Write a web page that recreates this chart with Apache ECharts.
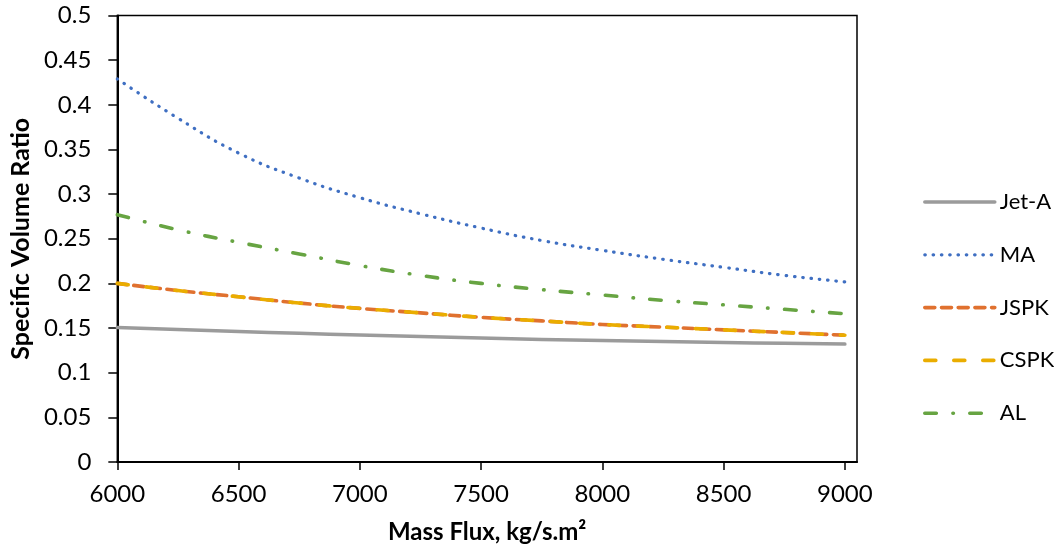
<!DOCTYPE html>
<html><head><meta charset="utf-8">
<script src="https://cdn.jsdelivr.net/npm/echarts@6/dist/echarts.min.js"></script>
<style>html,body{margin:0;padding:0;background:#fff}#c{width:1054px;height:555px}</style>
</head><body><div id="c"></div>
<script>
const massFlux = [6000, 6250, 6500, 6750, 7000, 7250, 7500, 7750, 8000, 8250, 8500, 8750, 9000];
const jetA = [0.1506, 0.1483, 0.1462, 0.1441, 0.1422, 0.1404, 0.1388, 0.1373, 0.1360, 0.1349, 0.1338, 0.1329, 0.1320];
const ma   = [0.429, 0.385, 0.346, 0.318, 0.296, 0.278, 0.262, 0.248, 0.237, 0.227, 0.218, 0.209, 0.2017];
const jspk = [0.200, 0.192, 0.185, 0.178, 0.172, 0.167, 0.162, 0.158, 0.154, 0.151, 0.148, 0.145, 0.142];
const cspk = [0.200, 0.192, 0.185, 0.178, 0.172, 0.167, 0.162, 0.158, 0.154, 0.151, 0.148, 0.145, 0.142];
const al   = [0.277, 0.260, 0.246, 0.233, 0.220, 0.209, 0.200, 0.193, 0.187, 0.181, 0.176, 0.171, 0.166];
const xTicks = [6000, 6500, 7000, 7500, 8000, 8500, 9000];
const seriesNames = ['Jet-A', 'MA', 'JSPK', 'CSPK', 'AL'];

const pair = ys => massFlux.map((x, i) => [x, ys[i]]);
const font = 'Lato, "DejaVu Sans", sans-serif';
const chart = echarts.init(document.getElementById('c'), null, {renderer: 'canvas'});
const mk = (name, ys, color, width, type) => ({
  name, type: 'line', data: pair(ys), smooth: true, symbol: 'none', showSymbol: false,
  lineStyle: {color, width, type, cap: 'round', join: 'round'},
  itemStyle: {color}
});
chart.setOption({
  animation: false,
  backgroundColor: '#fff',
  grid: {left: 115, top: 15.5, right: 197, bottom: 93, show: true, borderColor: '#000', borderWidth: 1.5, backgroundColor: 'transparent'},
  legend: {
    orient: 'vertical', left: 918, top: 186, itemWidth: 70, itemHeight: 14, itemGap: 30.8,
    selectedMode: false, data: seriesNames,
    itemStyle: {opacity: 0},
    lineStyle: {width: 'inherit', cap: 'round'},
    textStyle: {fontFamily: font, fontSize: 22, color: '#000'}
  },
  xAxis: {
    type: 'value', min: 6000, max: 9050,
    name: 'Mass Flux, kg/s.m²', nameLocation: 'middle', nameGap: 58,
    nameTextStyle: {fontFamily: font, fontSize: 24, fontWeight: 'bold', color: '#000'},
    axisLine: {show: true, lineStyle: {color: '#000', width: 2}},
    axisTick: {show: true, inside: false, length: 8, lineStyle: {color: '#000', width: 1.5}, customValues: xTicks},
    axisLabel: {fontFamily: font, fontSize: 24, color: '#000', margin: 20, customValues: xTicks,
      formatter: v => String(v)},
    splitLine: {show: false}
  },
  yAxis: {
    type: 'value', min: 0, max: 0.5, interval: 0.05,
    name: 'Specific Volume Ratio', nameLocation: 'middle', nameGap: 82,
    nameTextStyle: {fontFamily: font, fontSize: 25, fontWeight: 'bold', color: '#000'},
    axisLine: {show: true, lineStyle: {color: '#000', width: 2}},
    axisTick: {show: true, inside: false, length: 9, lineStyle: {color: '#000', width: 1.5}},
    axisLabel: {fontFamily: font, fontSize: 24, color: '#000', margin: 26,
      formatter: v => String(+v.toFixed(2))},
    splitLine: {show: false}
  },
  series: [
    mk('Jet-A', jetA, '#9b9b9b', 3.5, 'solid'),
    mk('MA', ma, '#3f6fc2', 3.2, [0.5, 7.8]),
    mk('JSPK', jspk, '#e0712f', 3.6, [10, 6.7]),
    mk('CSPK', cspk, '#eaad00', 3.6, [11, 18]),
    mk('AL', al, '#67a442', 3.6, [11.5, 16.6, 0.5, 16.4])
  ]
});
</script></body></html>
